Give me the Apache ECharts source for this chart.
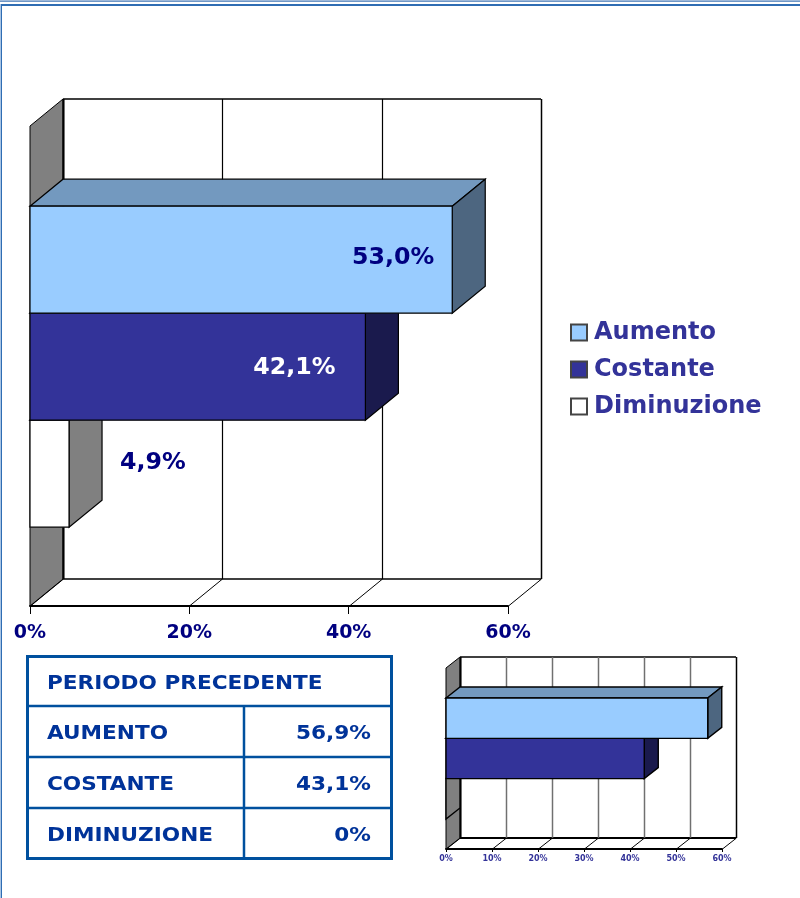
<!DOCTYPE html>
<html>
<head>
<meta charset="utf-8">
<style>html,body{margin:0;padding:0;background:#fff}#c{width:800px;height:898px}</style>
<script src="https://cdn.jsdelivr.net/npm/echarts@6/dist/echarts.min.js"></script>
</head>
<body>
<div id="c"></div>
<script>
var categories = ['Aumento', 'Costante', 'Diminuzione'];
var currentValues = [53.0, 42.1, 4.9];
var previousValues = [56.9, 43.1, 0];
var mainTicks = [0, 20, 40, 60];
var smallTicks = [0, 10, 20, 30, 40, 50, 60];
var tableTitle = 'PERIODO PRECEDENTE';
var tableLabels = ['AUMENTO', 'COSTANTE', 'DIMINUZIONE'];

var FONT = '"DejaVu Sans", Verdana, sans-serif';
var frontColors = ['#99CCFF', '#333399', '#FFFFFF'];
var topColors = ['#7399BF', '#26267A', '#BFBFBF'];
var sideColors = ['#4D6680', '#1A1A4D', '#808080'];
var labelColors = ['#000080', '#FFFFFF', '#000080'];
var labelPlacement = [
  { dx: -18, dy: -2, align: 'right' },
  { dx: -30, dy: 1, align: 'right' },
  { dx: 51, dy: -11, align: 'left' }
];
var BAR_SHARE = 0.2229;

function pct(v) { return v === 0 ? '0%' : v.toFixed(1).replace('.', ',') + '%'; }

function wallRenderer(depthX, depthY, lineColor, lineW, frameBottom) {
  return function (params, api) {
    var v = api.value(0);
    var r = params.coordSys;
    var fx = Math.round(api.coord([v, 0])[0]);
    var top = r.y, bottom = r.y + r.height;
    var ln = function (x1, y1, x2, y2, c, w) {
      return { type: 'line', shape: { x1: x1, y1: y1, x2: x2, y2: y2 },
               style: { stroke: c || lineColor, lineWidth: w || lineW, fill: null } };
    };
    var ch = [];
    var bx = fx + depthX + 0.5;
    var last = params.dataIndex === params.dataInsideLength - 1;
    ch.push(ln(bx, top - depthY, bx, bottom - depthY, last ? '#000' : lineColor, last ? 1.5 : lineW));
    ch.push(ln(fx + 0.5, bottom, bx, bottom - depthY, '#000', 1));
    if (params.dataIndex === 0) {
      ch.unshift({ type: 'polygon',
        shape: { points: [[fx, top], [fx + depthX, top - depthY], [fx + depthX, bottom - depthY], [fx, bottom]] },
        style: { fill: '#808080', stroke: '#000', lineWidth: 1 } });
      ch.push(ln(bx, top - depthY, bx, bottom - depthY, '#000', 2));
      ch.push(ln(r.x + depthX, top - depthY, r.x + r.width + depthX, top - depthY, '#000', 1.5));
      ch.push(ln(r.x + depthX, bottom - depthY, r.x + r.width + depthX, bottom - depthY, '#000', frameBottom));
    }
    return { type: 'group', children: ch };
  };
}

function barRenderer(idx, depthX, depthY, lineW, withLabel, yShift) {
  return function (params, api) {
    var v = api.value(0);
    var c = api.coord([v, 0]);
    var x0 = api.coord([0, 0])[0];
    var band = api.size([0, 1])[1];
    var h = band * BAR_SHARE;
    var y0 = c[1] + (idx - 1.5) * h + yShift;
    var y1 = y0 + h;
    var x1 = c[0];
    var st = function (f) { return { fill: f, stroke: '#000', lineWidth: lineW }; };
    var ch = [
      { type: 'polygon', shape: { points: [[x0, y0], [x0 + depthX, y0 - depthY], [x1 + depthX, y0 - depthY], [x1, y0]] }, style: st(topColors[idx]) },
      { type: 'polygon', shape: { points: [[x1, y0], [x1 + depthX, y0 - depthY], [x1 + depthX, y1 - depthY], [x1, y1]] }, style: st(sideColors[idx]) }
    ];
    if (v > 0) {
      ch.push({ type: 'rect', shape: { x: x0, y: y0, width: x1 - x0, height: h }, style: st(frontColors[idx]) });
    }
    if (withLabel) {
      var p = labelPlacement[idx];
      ch.push({ type: 'text', x: x1 + p.dx, y: (y0 + y1) / 2 + p.dy, scaleX: 1.03, style: {
        x: 0, y: 0, text: pct(v), align: p.align, verticalAlign: 'middle',
        fill: labelColors[idx], font: 'bold 23px ' + FONT } });
    }
    return { type: 'group', children: ch };
  };
}

var series = [
  { type: 'custom', name: 'wallsMain', xAxisIndex: 0, yAxisIndex: 0, z: 2, silent: true,
    renderItem: wallRenderer(33, 27, '#000', 1.2, 1.5), data: mainTicks.map(function (t) { return [t, 0]; }) },
  { type: 'custom', name: 'wallsSmall', xAxisIndex: 1, yAxisIndex: 1, z: 2, silent: true,
    renderItem: wallRenderer(14, 11, '#707070', 1.5, 2), data: smallTicks.map(function (t) { return [t, 0]; }) }
];
categories.forEach(function (name, i) {
  var style = { color: frontColors[i], borderColor: '#444', borderWidth: 1.5 };
  series.push({ type: 'custom', name: name, xAxisIndex: 0, yAxisIndex: 0, z: 10 - i,
    itemStyle: style, renderItem: barRenderer(i, 33, 27, 1.2, true, 0.7), data: [[currentValues[i], 0]] });
  series.push({ type: 'custom', name: name + ' (periodo precedente)', xAxisIndex: 1, yAxisIndex: 1, z: 10 - i,
    itemStyle: style, renderItem: barRenderer(i, 14, 11, 1.4, false, 0), data: [[previousValues[i], 0]] });
});

var BLUE = '#00509E', TXT = '#003399';
var gfx = [
  { type: 'rect', shape: { x: 0, y: 0, width: 800, height: 1 }, style: { fill: '#9DB8D9' } },
  { type: 'rect', shape: { x: 0, y: 1, width: 800, height: 1 }, style: { fill: '#6F97C6' } },
  { type: 'rect', shape: { x: 1, y: 4, width: 799, height: 2 }, style: { fill: '#2F6DB3' } },
  { type: 'rect', shape: { x: 0, y: 4, width: 1, height: 894 }, style: { fill: '#A8C4E4' } },
  { type: 'rect', shape: { x: 1, y: 4, width: 1, height: 894 }, style: { fill: '#2F6DB3' } },
  { type: 'rect', shape: { x: 27.5, y: 656.5, width: 364, height: 202 }, style: { fill: 'none', stroke: BLUE, lineWidth: 3 } }
];
var rowLines = [706, 757, 808];
rowLines.forEach(function (y) {
  gfx.push({ type: 'line', shape: { x1: 27, y1: y, x2: 392, y2: y }, style: { stroke: BLUE, lineWidth: 2.5 } });
});
gfx.push({ type: 'line', shape: { x1: 244, y1: 706, x2: 244, y2: 859 }, style: { stroke: BLUE, lineWidth: 2.5 } });
function cell(text, x, y, align) {
  gfx.push({ type: 'text', x: x, y: y, scaleX: 1.08, style: { text: text, align: align, verticalAlign: 'middle', fill: TXT, font: 'bold 20px ' + FONT } });
}
cell(tableTitle, 47, 684, 'left');
var rowCenters = [734, 785, 836];
tableLabels.forEach(function (t, i) {
  cell(t, 47, rowCenters[i], 'left');
  cell(pct(previousValues[i]), 371, rowCenters[i], 'right');
});

function xAxis(idx, interval, fontSize, tick, margin, lw, color) {
  return { type: 'value', gridIndex: idx, min: 0, max: 60, interval: interval, position: 'bottom',
    axisLine: { show: true, onZero: false, lineStyle: { color: '#000', width: lw } },
    axisTick: { show: true, length: tick, lineStyle: { color: '#000', width: 1 } },
    splitLine: { show: false },
    axisLabel: { margin: margin, color: color, fontFamily: FONT, fontWeight: 'bold', fontSize: fontSize, formatter: '{value}%' } };
}
function yAxis(idx) {
  return { type: 'category', gridIndex: idx, data: ['Periodo'], show: false };
}

var chart = echarts.init(document.getElementById('c'), null, { renderer: 'canvas' });
chart.setOption({
  animation: false,
  backgroundColor: '#fff',
  tooltip: { show: false },
  grid: [
    { left: 30, top: 126, width: 478, height: 480 },
    { left: 446, top: 668, width: 276, height: 181 }
  ],
  xAxis: [xAxis(0, 20, 19, 8, 18, 2, '#000080'), xAxis(1, 10, 8, 3, 6, 2, '#333399')],
  yAxis: [yAxis(0), yAxis(1)],
  legend: {
    orient: 'vertical', left: 570, top: 318, padding: 0, icon: 'rect', itemWidth: 16, itemHeight: 16, itemGap: 8, selectedMode: false,
    data: categories, textStyle: { color: '#333399', fontFamily: FONT, fontWeight: 'bold', fontSize: 24, lineHeight: 29, padding: [0, 0, 0, 2] }
  },
  series: series,
  graphic: { elements: gfx }
});
</script>
</body>
</html>
